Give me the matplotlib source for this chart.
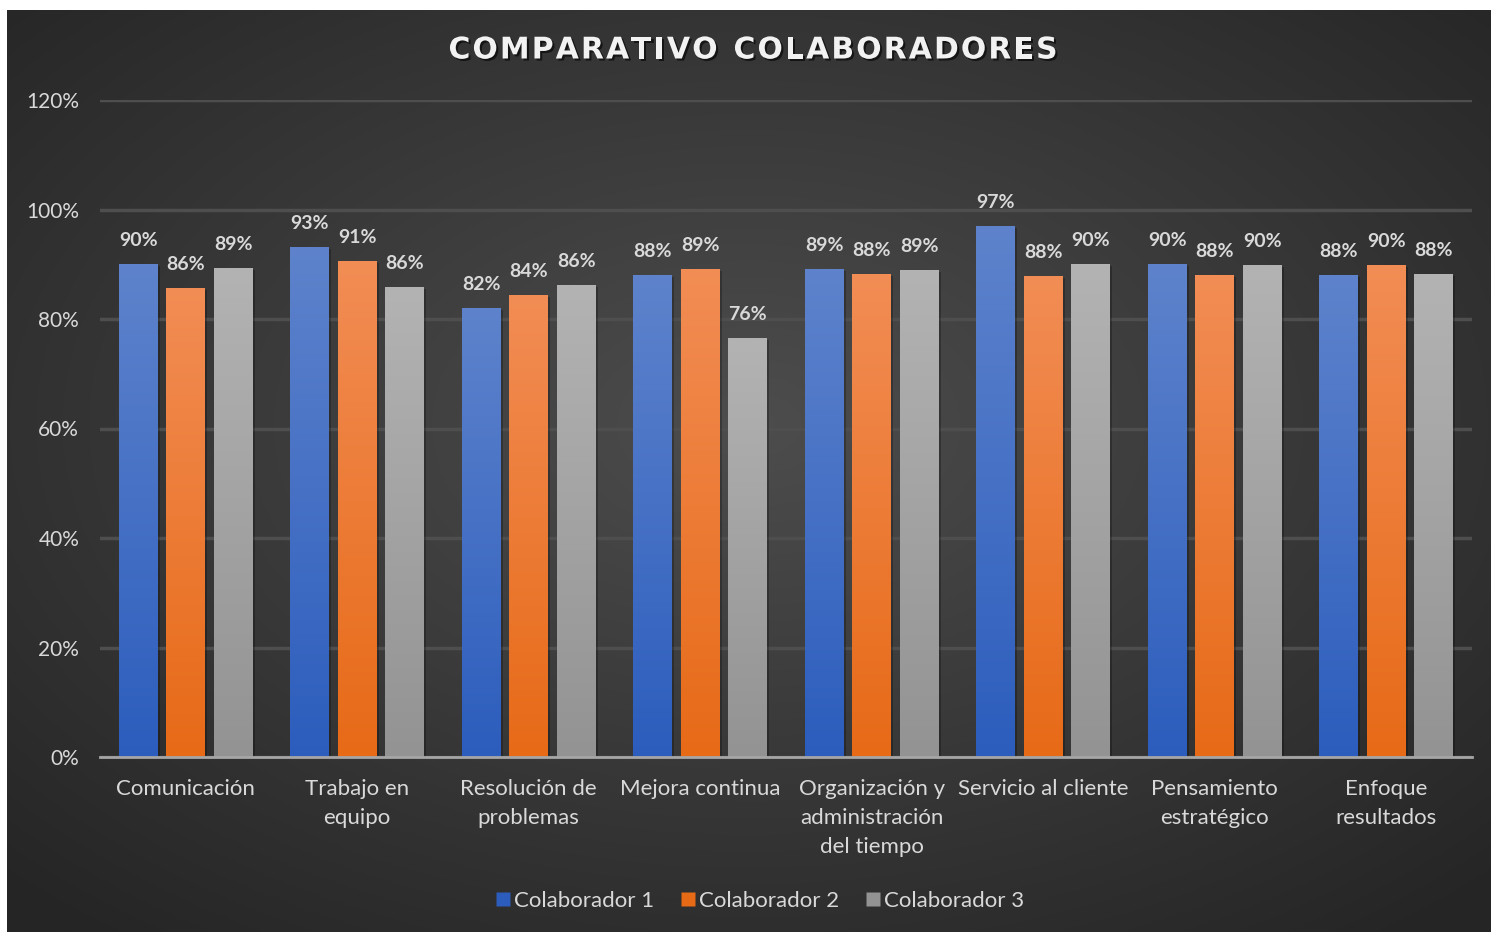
import numpy as np
import matplotlib
matplotlib.use("Agg")
import matplotlib.pyplot as plt
from matplotlib.patches import Rectangle
from matplotlib.colors import LinearSegmentedColormap
from matplotlib.lines import Line2D
import matplotlib.patheffects as pe

categories = ["Comunicación", "Trabajo en\nequipo", "Resolución de\nproblemas", "Mejora continua",
              "Organización y\nadministración\ndel tiempo", "Servicio al cliente",
              "Pensamiento\nestratégico", "Enfoque\nresultados"]
series_names = ["Colaborador 1", "Colaborador 2", "Colaborador 3"]
colab1 = [0.90, 0.932, 0.82, 0.88, 0.891, 0.97, 0.90, 0.88]
colab2 = [0.857, 0.906, 0.844, 0.891, 0.882, 0.879, 0.88, 0.899]
colab3 = [0.894, 0.858, 0.862, 0.765, 0.89, 0.90, 0.899, 0.882]
yticks = [0, 0.2, 0.4, 0.6, 0.8, 1.0, 1.2]
title = "COMPARATIVO COLABORADORES"

W, H, DPI = 1491, 932, 100
fig = plt.figure(figsize=(W / DPI, H / DPI), dpi=DPI, facecolor="white")

# background radial gradient
bg = fig.add_axes([7 / W, 0, 1 - 7 / W, 1 - 10 / H])
bg.set_axis_off()
yy, xx = np.mgrid[0:1:400j, 0:1:640j]
r = np.sqrt(((xx - 0.5) / 0.75) ** 2 + ((yy - 0.45) / 0.75) ** 2)
r = np.clip(r / 0.95, 0, 1)
inner = np.array([0x4d, 0x4d, 0x4d]) / 255
outer = np.array([0x25, 0x25, 0x25]) / 255
img = inner[None, None, :] * (1 - r[..., None]) + outer[None, None, :] * r[..., None]
bg.imshow(img, aspect="auto", extent=[0, 1, 0, 1], origin="upper")
bg.set_xlim(0, 1); bg.set_ylim(0, 1)

ax = fig.add_axes([100 / W, (H - 757) / H, 1372 / W, 657 / H])
ax.set_facecolor("none")
n = len(categories)

grad_colors = [("#5e83cc", "#2c5dbd"), ("#f28d55", "#e76a17"), ("#b3b3b3", "#939393")]
bw = 0.227
step = 0.277
all_series = [colab1, colab2, colab3]
x = np.arange(n)
for i, (vals, (ctop, cbot)) in enumerate(zip(all_series, grad_colors)):
    cmap = LinearSegmentedColormap.from_list(f"g{i}", [cbot, ctop])
    xs = x + (i - 1) * step
    bars = ax.bar(xs, vals, width=bw, color=cbot, label=series_names[i], zorder=3)
    for b, v in zip(bars, vals):
        sh = Rectangle((b.get_x() + 0.012, 0), bw, v - 0.004, color="black", alpha=0.25,
                       zorder=2, lw=0)
        ax.add_patch(sh)
        grad = np.linspace(0, 1, 256).reshape(-1, 1)
        im = ax.imshow(grad, cmap=cmap, aspect="auto", origin="lower",
                       extent=[b.get_x(), b.get_x() + bw, 0, v], zorder=4, vmin=0, vmax=1)
        im.set_clip_path(b)
        ax.text(b.get_x() + bw / 2, v + 0.027, f"{v:.0%}", ha="center", va="bottom",
                fontsize=14, fontweight="bold", color="#d9d9d9", family="Lato", zorder=5)
ax.set_xlim(-0.5, n - 0.5)
ax.set_ylim(0, 1.2)

ax.set_yticks(yticks)
ax.set_yticklabels([f"{t:.0%}" for t in yticks], fontsize=15, color="#d9d9d9", family="Lato")
ax.set_xticks(x)
ax.set_xticklabels(categories, fontsize=16, color="#d9d9d9", family="Lato", linespacing=1.57, va="top")
ax.tick_params(axis="both", length=0)
ax.tick_params(axis="y", pad=15)
ax.tick_params(axis="x", pad=16)
ax.grid(axis="y", color="#4e4e4e", linewidth=2.5, zorder=0)
for s in ["top", "right", "left"]:
    ax.spines[s].set_visible(False)
ax.spines["bottom"].set_color("#a6a6a6")
ax.spines["bottom"].set_linewidth(2)
ax.spines["bottom"].set_zorder(6)

# legend
handles = [Line2D([], [], marker="s", linestyle="none", markersize=10, markerfacecolor=c[1],
                  markeredgecolor="none") for c in grad_colors]
leg = fig.legend(handles, series_names, loc="center", bbox_to_anchor=(758 / W, (H - 901) / H),
                 ncol=3, frameon=False, prop={"family": "Lato", "size": 16}, handletextpad=0.0,
                 columnspacing=1.0, handlelength=1.0)
for t in leg.get_texts():
    t.set_color("#d9d9d9")

# title with letter spacing
renderer = fig.canvas.get_renderer()
fs = 21.5
spacing = 2.1
widths = []
for ch in title:
    t = fig.text(0, 0, ch if ch != " " else "n", fontsize=fs, fontweight="bold", family="DejaVu Sans")
    bb = t.get_window_extent(renderer)
    w = bb.width if ch != " " else bb.width * 0.55
    widths.append(w)
    t.remove()
total = sum(widths) + spacing * (len(title) - 1)
xpos = 753 - total / 2
for ch, w in zip(title, widths):
    if ch != " ":
        fig.text(xpos / W, (H - 50) / H, ch, fontsize=fs, fontweight="bold", family="DejaVu Sans",
                 color="#f2f2f2", va="center", ha="left",
                 path_effects=[pe.withSimplePatchShadow(offset=(1.5, -1.5), shadow_rgbFace="black", alpha=0.6)])
    xpos += w + spacing

fig.savefig("out.png", dpi=DPI, facecolor="white")
